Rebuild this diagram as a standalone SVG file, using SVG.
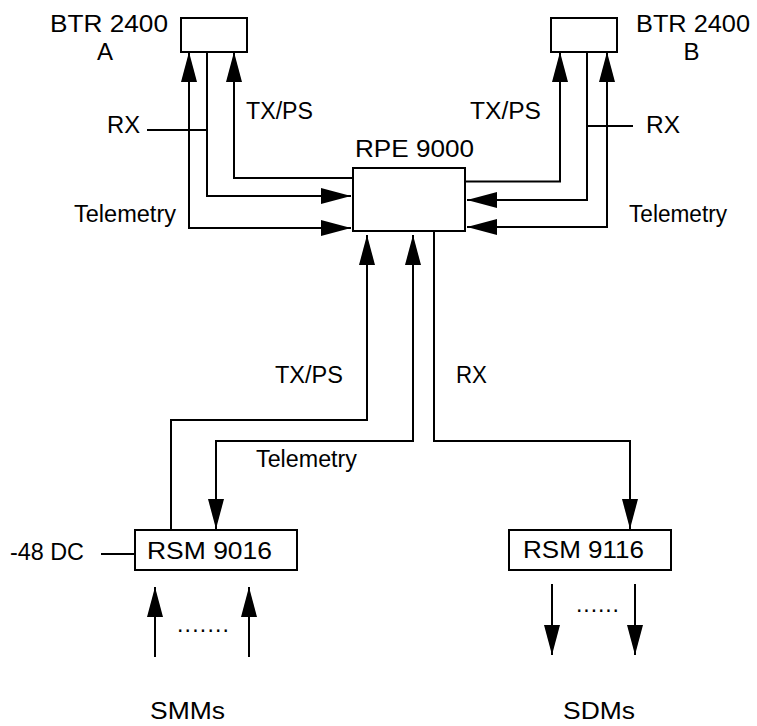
<svg xmlns="http://www.w3.org/2000/svg" width="757" height="726" viewBox="0 0 757 726">
  <style>
    .box { fill: #ffffff; stroke: #000000; stroke-width: 2; }
    .wire { fill: none; stroke: #000000; stroke-width: 2; }
    .lbl { font-family: "Liberation Sans", Arial, Helvetica, sans-serif; fill: #000000; }
    .t24 { font-size: 24px; }
    .t23 { font-size: 23px; }
    .arr { marker-end: url(#ah); }
    .arr2 { marker-start: url(#ah); marker-end: url(#ah); }
  </style>
  <defs>
    <marker id="ah" viewBox="0 0 30 16" refX="30" refY="8" markerWidth="30" markerHeight="16" markerUnits="userSpaceOnUse" orient="auto-start-reverse">
      <path d="M0,0 L30,8 L0,16 z" fill="#000000"/>
    </marker>
  </defs>
  <rect width="757" height="726" fill="#ffffff"/>

  <g id="connectors">
    <!-- BTR A side -->
    <path class="wire arr2" d="M189,52 V228 H351"/>
    <path class="wire arr" d="M207,52 V196 H351"/>
    <path class="wire" d="M147,130 H207"/>
    <path class="wire arr" d="M353,178 H234 V52"/>
    <!-- BTR B side -->
    <path class="wire arr" d="M465,181.5 H560 V52"/>
    <path class="wire arr" d="M587,52 V200 H467"/>
    <path class="wire" d="M587,126 H633"/>
    <path class="wire arr2" d="M607,52 V227 H467"/>
    <!-- RPE to RSM -->
    <path class="wire arr" d="M171,530 V420 H367 V235"/>
    <path class="wire arr2" d="M413,235 V441 H216 V529"/>
    <path class="wire arr" d="M434,231 V441 H630 V529"/>
    <!-- -48 DC feed -->
    <path class="wire" d="M101,554 H135"/>
    <!-- SMMs -->
    <path class="wire arr" d="M155,657 V587"/>
    <path class="wire arr" d="M249,657 V587"/>
    <!-- SDMs -->
    <path class="wire arr" d="M552,584 V655"/>
    <path class="wire arr" d="M635,584 V655"/>
    <!-- labels -->
    <text class="lbl t23" x="107" y="133" textLength="33" lengthAdjust="spacingAndGlyphs">RX</text>
    <text class="lbl t23" x="246" y="119" textLength="67" lengthAdjust="spacingAndGlyphs">TX/PS</text>
    <text class="lbl t23" x="74" y="222" textLength="102" lengthAdjust="spacingAndGlyphs">Telemetry</text>
    <text class="lbl t23" x="470" y="119" textLength="71" lengthAdjust="spacingAndGlyphs">TX/PS</text>
    <text class="lbl t23" x="646" y="133" textLength="34" lengthAdjust="spacingAndGlyphs">RX</text>
    <text class="lbl t23" x="629" y="222" textLength="98" lengthAdjust="spacingAndGlyphs">Telemetry</text>
    <text class="lbl t23" x="275" y="383" textLength="68" lengthAdjust="spacingAndGlyphs">TX/PS</text>
    <text class="lbl t23" x="456" y="383" textLength="31" lengthAdjust="spacingAndGlyphs">RX</text>
    <text class="lbl t23" x="256" y="467" textLength="101" lengthAdjust="spacingAndGlyphs">Telemetry</text>
    <text class="lbl t23" x="10" y="560" textLength="74" lengthAdjust="spacingAndGlyphs">-48 DC</text>
    <text class="lbl t23" x="177" y="632" textLength="52" lengthAdjust="spacing">.......</text>
    <text class="lbl t23" x="576" y="612" textLength="43" lengthAdjust="spacing">......</text>
  </g>

  <g id="btr-a">
    <rect class="box" x="181" y="18" width="66" height="34"/>
    <text class="lbl t24" x="50" y="32" textLength="118" lengthAdjust="spacingAndGlyphs">BTR 2400</text>
    <text class="lbl t24" x="105" y="60" text-anchor="middle">A</text>
  </g>

  <g id="btr-b">
    <rect class="box" x="551" y="18" width="66" height="34"/>
    <text class="lbl t24" x="636" y="32" textLength="114" lengthAdjust="spacingAndGlyphs">BTR 2400</text>
    <text class="lbl t24" x="691.5" y="60" text-anchor="middle">B</text>
  </g>

  <g id="rpe-9000">
    <rect class="box" x="353" y="168" width="112" height="63"/>
    <text class="lbl t24" x="355" y="157" textLength="119" lengthAdjust="spacingAndGlyphs">RPE 9000</text>
  </g>

  <g id="rsm-9016">
    <rect class="box" x="135" y="530" width="162" height="40"/>
    <text class="lbl t24" x="147" y="559" textLength="125" lengthAdjust="spacingAndGlyphs">RSM 9016</text>
  </g>

  <g id="rsm-9116">
    <rect class="box" x="509" y="530" width="162" height="40"/>
    <text class="lbl t24" x="523" y="558" textLength="121" lengthAdjust="spacingAndGlyphs">RSM 9116</text>
  </g>

  <g id="smms">
    <text class="lbl t24" x="150" y="719" textLength="75" lengthAdjust="spacingAndGlyphs">SMMs</text>
  </g>

  <g id="sdms">
    <text class="lbl t24" x="563" y="719" textLength="72" lengthAdjust="spacingAndGlyphs">SDMs</text>
  </g>
</svg>
